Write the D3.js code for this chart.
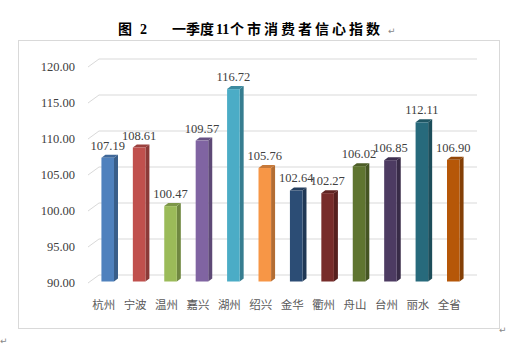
<!DOCTYPE html>
<html><head><meta charset="utf-8">
<script src="https://cdn.jsdelivr.net/npm/d3@7"></script>
<style>body{margin:0;background:#fff}svg{display:block}</style>
</head><body>
<script>
const categories = ["杭州","宁波","温州","嘉兴","湖州","绍兴","金华","衢州","舟山","台州","丽水","全省"];
const values = [107.19,108.61,100.47,109.57,116.72,105.76,102.64,102.27,106.02,106.85,112.11,106.90];
const colors = ["#4F81BD","#C0504D","#9BBB59","#8064A2","#4BACC6","#F79646","#2C4D75","#772C2A","#5F7530","#4D3B62","#276A7C","#B65708"];
const yTicks = [90,95,100,105,110,115,120];

const W=516,H=345;
const svg=d3.select("body").append("svg").attr("width",W).attr("height",H);

svg.append("rect").attr("x",18.5).attr("y",40.5).attr("width",481).attr("height",288)
  .attr("fill","#fff").attr("stroke","#D9D9D9");

const tg=svg.append("g").attr("font-family","'Noto Sans CJK SC',sans-serif").attr("font-weight","bold").attr("font-size",14).attr("fill","#000");
tg.append("text").attr("x",118).attr("y",34).text("图");
tg.append("text").attr("x",140).attr("y",34).attr("font-family","'Liberation Serif',serif").attr("font-size",14).text("2");
tg.append("text").attr("x",172).attr("y",34).attr("letter-spacing",0).text("一季度");
tg.append("text").attr("x",216).attr("y",34).attr("font-family","'Liberation Serif',serif").attr("font-size",14).attr("letter-spacing",0).text("11");
tg.append("text").attr("x",230).attr("y",34).attr("letter-spacing",3).text("个市消费者信心指数");
const pm=svg.append("g").attr("font-family","'DejaVu Sans',sans-serif").attr("font-size",9).attr("fill","#888");
pm.append("text").attr("x",388).attr("y",34).text("↵");
pm.append("text").attr("x",499).attr("y",333).text("↵");
pm.append("text").attr("x",0).attr("y",344).text("↵");

const y=d3.scaleLinear().domain([90,120]).range([283,67]);
const x=d3.scaleBand().domain(categories).range([88,465]).paddingInner(0.6).paddingOuter(0.3);
const dX=11, dY=-8;
const bX=4, bY=-1.5;
const sX=4, sY=-3;

const grid=svg.append("g").attr("stroke","#D9D9D9").attr("fill","none").attr("stroke-width",1);
yTicks.forEach(t=>{
  const yf=y(t), yb=y(t)+dY;
  grid.append("path").attr("d",`M${x.range()[0]},${yf}L${x.range()[0]+dX},${yb}L${x.range()[1]+dX+1},${yb}`);
});

svg.append("g").attr("font-family","'Liberation Serif',serif").attr("font-size",12.5).attr("fill","#404040")
  .selectAll("text").data(yTicks).join("text")
  .attr("x",75).attr("y",d=>y(d)).attr("dy","0.35em").attr("text-anchor","end")
  .text(d=>d3.format(".2f")(d));

const bars=svg.append("g").selectAll("g").data(categories).join("g");
bars.each(function(c,i){
  const g=d3.select(this);
  const x0=x(c)+bX, w=x.bandwidth();
  const yt=y(values[i])+bY, yb=y(90)+bY;
  const col=d3.color(colors[i]);
  g.append("path").attr("d",`M${x0+w},${yt}L${x0+w+sX},${yt+sY}L${x0+w+sX},${yb+sY}L${x0+w},${yb}Z`)
    .attr("fill",col.darker(0.9));
  g.append("path").attr("d",`M${x0},${yt}L${x0+sX},${yt+sY}L${x0+w+sX},${yt+sY}L${x0+w},${yt}Z`)
    .attr("fill",col.darker(0.6));
  g.append("rect").attr("x",x0).attr("y",yt).attr("width",w).attr("height",yb-yt).attr("fill",colors[i]);
  g.append("text").attr("x",x0+w/2).attr("y",yt-8).attr("text-anchor","middle")
    .attr("font-family","'Liberation Serif',serif").attr("font-size",12.5).attr("fill","#404040")
    .text(d3.format(".2f")(values[i]));
});

svg.append("g").attr("font-family","'Noto Sans CJK SC',sans-serif").attr("font-size",11.5).attr("fill","#595959")
  .selectAll("text").data(categories).join("text")
  .attr("x",d=>x(d)+x.bandwidth()/2).attr("y",309).attr("text-anchor","middle").text(d=>d);
</script>
</body></html>
